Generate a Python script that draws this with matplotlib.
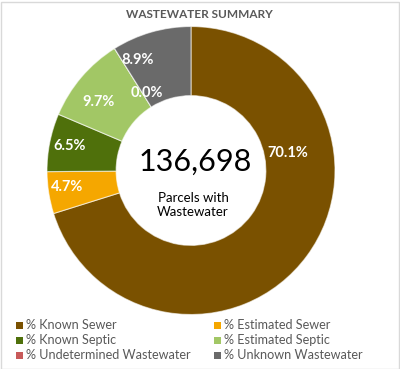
import matplotlib
matplotlib.use("Agg")
import matplotlib.pyplot as plt
import numpy as np
from matplotlib.patches import Rectangle

# ---- data ----
categories = ["% Known Sewer", "% Estimated Sewer", "% Known Septic",
              "% Estimated Septic", "% Undetermined Wastewater", "% Unknown Wastewater"]
values = [70.1, 4.7, 6.5, 9.7, 0.0, 8.9]
colors = ["#7A5100", "#F5A700", "#4F700B", "#A2C765", "#C85A5A", "#6A6A6A"]
total_parcels = "136,698"
center_caption = "Parcels with\nWastewater"
title = "WASTEWATER SUMMARY"

# ---- label layout (style) ----
label_radius = [0.68, 0.87, 0.86, 0.80, 0.62, 0.85]
label_angle_shift = [46.5, -1.2, 0.0, 4.0, -2.4, 9.6]

plt.rcParams['font.family'] = ['Lato', 'DejaVu Sans']

W, H = 400, 369
fig = plt.figure(figsize=(W / 100, H / 100), dpi=100)
fig.patch.set_facecolor("white")

# border of chart area
fig.patches.append(Rectangle((0.5 / W, 0.5 / H), 1 - 2.0 / W, 1 - 2.0 / H,
                             transform=fig.transFigure, fill=False,
                             edgecolor="#D9D9D9", linewidth=1.0))

cx, cy, R = 191, 170.5, 144
ax = fig.add_axes([(cx - R) / W, (H - cy - R) / H, 2 * R / W, 2 * R / H])

inner = 0.52
wedges, _ = ax.pie(values, colors=colors, startangle=90, counterclock=False,
                   radius=1.0, wedgeprops=dict(width=1 - inner, edgecolor=(1, 1, 1, 0.6),
                                               linewidth=0.8))
ax.set_xlim(-1, 1)
ax.set_ylim(-1, 1)
ax.set_aspect("equal")
ax.axis("off")

tot = sum(values)
cum = 0.0
for i, v in enumerate(values):
    mid = 90 - 360 * (cum + v / 2) / tot
    ang = np.deg2rad(mid + label_angle_shift[i])
    r = label_radius[i]
    ax.text(r * np.cos(ang), r * np.sin(ang), f"{v:.1f}%", ha="center", va="center",
            color="white", fontsize=10.5, fontweight="bold")
    cum += v

# center text
fig.text(195 / W, 1 - 162 / H, total_parcels, ha="center", va="center",
         fontsize=22, color="black")
fig.text(193 / W, 1 - 205 / H, center_caption, ha="center", va="center",
         fontsize=9.5, color="black", linespacing=1.25)

# title
fig.text(199 / W, 1 - 15 / H, title, ha="center", va="center",
         fontsize=8.5, fontweight="bold", color="#595959")

# legend (manual, row-wise)
col_x = [16, 214]
row_y = [325, 340, 355]
for i, (lab, c) in enumerate(zip(categories, colors)):
    row, col = i // 2, i % 2
    x = col_x[col]
    y = row_y[row]
    fig.patches.append(Rectangle((x / W, 1 - (y + 3.5) / H), 7 / W, 7 / H,
                                 transform=fig.transFigure, facecolor=c,
                                 edgecolor="none"))
    fig.text((x + 10) / W, 1 - y / H, lab, ha="left", va="center",
             fontsize=9.1, color="#595959")

fig.savefig("out.png", dpi=100, facecolor="white")
